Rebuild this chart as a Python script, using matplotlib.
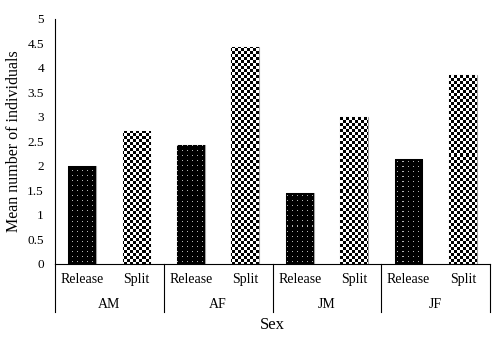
import numpy as np
import matplotlib
matplotlib.use("Agg")
import matplotlib.pyplot as plt

groups = ["AM", "AF", "JM", "JF"]
treatments = ["Release", "Split"]
release_vals = [2.0, 2.43, 1.45, 2.14]
split_vals = [2.71, 4.43, 3.0, 3.86]
yticks = [0, 0.5, 1, 1.5, 2, 2.5, 3, 3.5, 4, 4.5, 5]
ytick_labels = ["0", "0.5", "1", "1.5", "2", "2.5", "3", "3.5", "4", "4.5", "5"]

plt.rcParams['font.family'] = ['Liberation Serif', 'DejaVu Serif']

fig = plt.figure(figsize=(5, 3.38), dpi=100)
ax = fig.add_axes([0.11, 0.219, 0.87, 0.725])

n = len(groups)
xr = np.arange(n) * 2
xs = np.arange(n) * 2 + 1
w = 0.51
ax.set_xlim(-0.5, 2 * n - 0.5)
ax.set_ylim(0, 5)

rel_bars = ax.bar(xr, release_vals, width=w, color='black', edgecolor='#a0a0a0', linewidth=0.8, zorder=2)
spl_bars = ax.bar(xs, split_vals, width=w, color='white', edgecolor='#a0a0a0', linewidth=0.8, zorder=2)

# textures
W, H = 435, 245
checker = ((np.arange(H)[:, None] // 3 + np.arange(W)[None, :] // 3) % 2).astype(float)
dots = np.zeros((H, W))
dots[2::5, 2::5] = 0.7
ext = (-0.5, 2 * n - 0.5, 0, 5)
for b in spl_bars:
    im = ax.imshow(checker, cmap='gray', vmin=0, vmax=1, extent=ext, aspect='auto',
                   interpolation='nearest', zorder=2.5, origin='upper')
    im.set_clip_path(b)
for b in rel_bars:
    im = ax.imshow(dots, cmap='gray', vmin=0, vmax=1, extent=ext, aspect='auto',
                   interpolation='nearest', zorder=2.5, origin='upper')
    im.set_clip_path(b)
ax.set_xlim(-0.5, 2 * n - 0.5)
ax.set_ylim(0, 5)

for s in ['top', 'right']:
    ax.spines[s].set_visible(False)
ax.spines['left'].set_color('black')
ax.spines['bottom'].set_color('black')
ax.spines['left'].set_linewidth(0.8)
ax.spines['bottom'].set_linewidth(0.8)

ax.set_yticks(yticks)
ax.set_yticklabels(ytick_labels, fontsize=9.5)
ax.tick_params(axis='y', length=0, pad=8)
ax.set_xticks([])

# category labels
for i, g in enumerate(groups):
    ax.text(xr[i], -0.32, treatments[0], ha='center', va='center', fontsize=10)
    ax.text(xs[i], -0.32, treatments[1], ha='center', va='center', fontsize=10)
    ax.text((xr[i] + xs[i]) / 2, -0.83, g, ha='center', va='center', fontsize=10)
for k in range(n + 1):
    xpos = -0.5 + 2 * k
    ax.plot([xpos, xpos], [0, -0.98], color='black', lw=0.8, clip_on=False)

ax.text(3.5, -1.25, "Sex", ha='center', va='center', fontsize=12)
ax.set_ylabel("Mean number of individuals", fontsize=11.5, labelpad=4)

fig.savefig("out.png", dpi=100)
